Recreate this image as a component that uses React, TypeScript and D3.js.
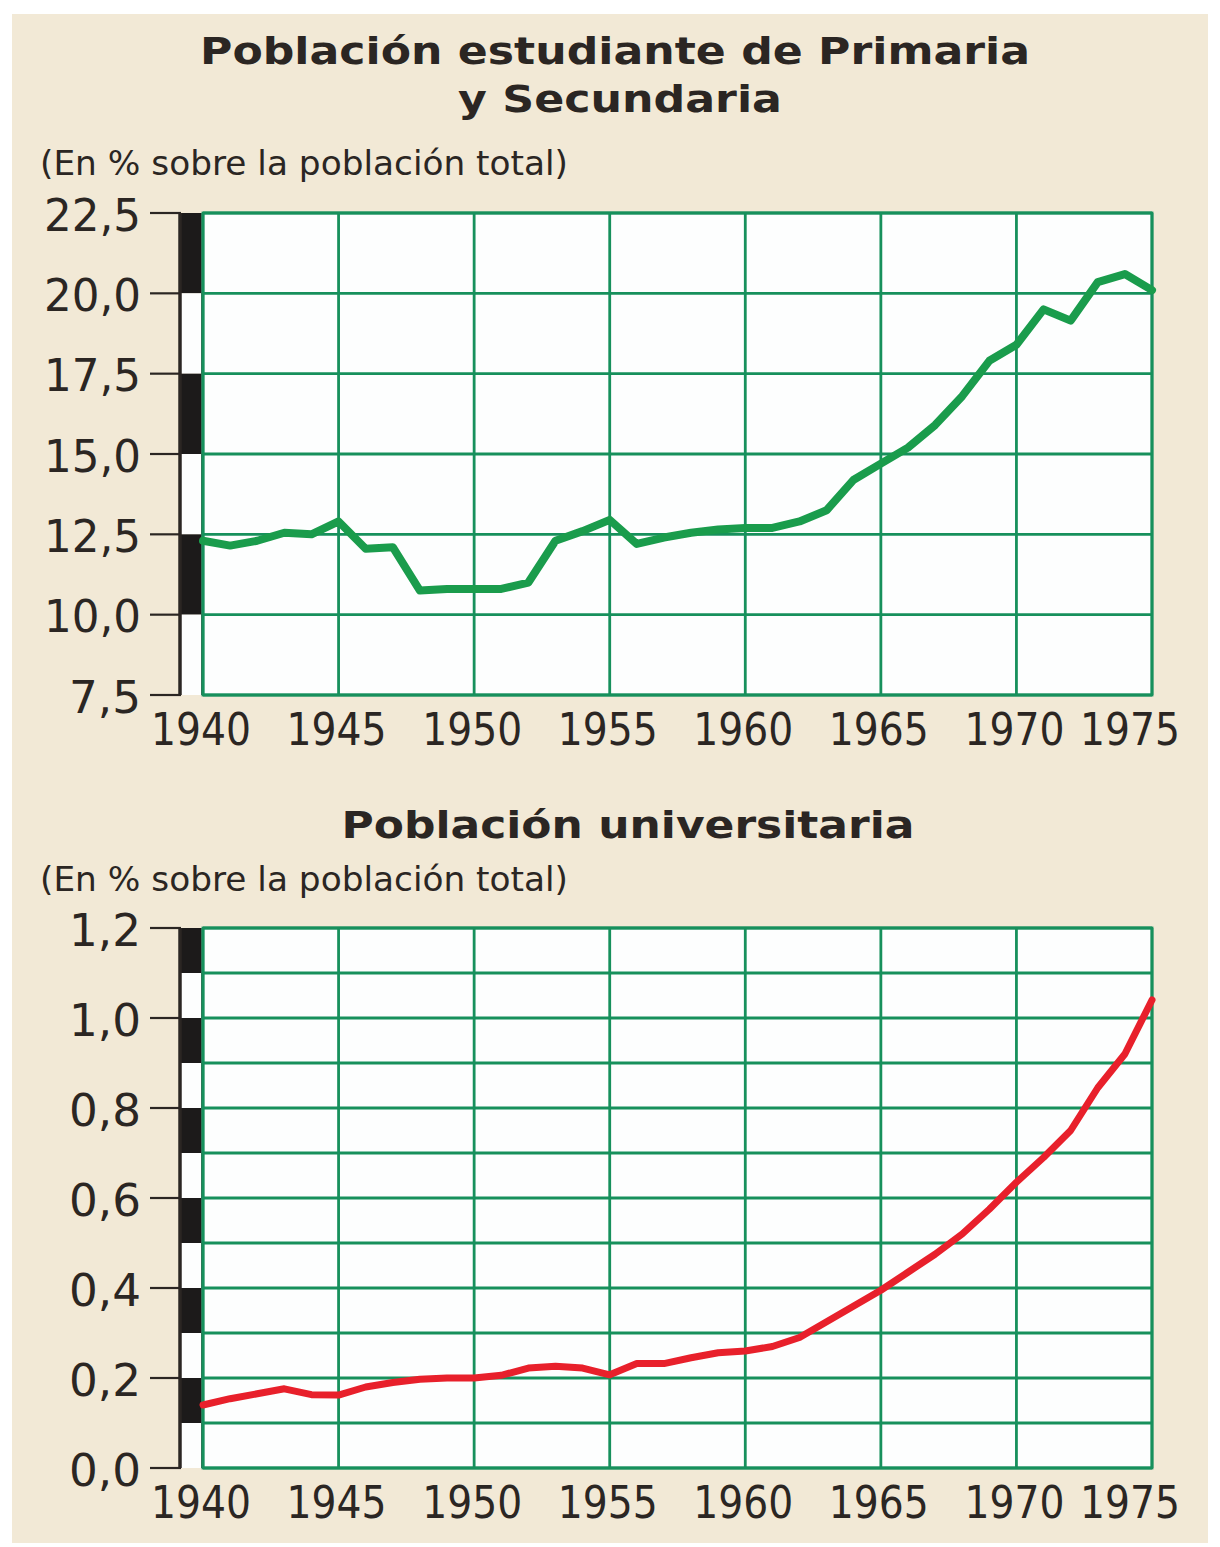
import React from "react";
import * as d3 from "d3";

const years = d3.range(1940, 1976);
const primaria = [
  12.3, 12.15, 12.3, 12.55, 12.5, 12.9, 12.05, 12.1, 10.75, 10.8, 10.8, 10.8,
  11.0, 12.3, 12.6, 12.95, 12.2, 12.4, 12.55, 12.65, 12.7, 12.7, 12.9, 13.25,
  14.2, 14.7, 15.2, 15.9, 16.8, 17.9, 18.4, 19.5, 19.15, 20.35, 20.6, 20.1,
];
const universitaria = [
  0.14, 0.154, 0.165, 0.176, 0.163, 0.162, 0.18, 0.19, 0.197, 0.2, 0.2, 0.206,
  0.222, 0.226, 0.222, 0.207, 0.232, 0.232, 0.245, 0.256, 0.26, 0.27, 0.29,
  0.325, 0.36, 0.395, 0.435, 0.475, 0.52, 0.575, 0.635, 0.69, 0.75, 0.845,
  0.92, 1.04,
];
const yearTicks = [1940, 1945, 1950, 1955, 1960, 1965, 1970, 1975];
const primTicks = [7.5, 10, 12.5, 15, 17.5, 20, 22.5];
const univTicks = [0, 0.2, 0.4, 0.6, 0.8, 1.0, 1.2];

const fmt = (d: number) => d.toFixed(1).replace(".", ",");

const GRID = "#17905c";
const INK = "#2b2623";
const FONT = "DejaVu Sans";

const x = d3.scaleLinear().domain([1940, 1975]).range([203, 1152]);

// Tahoma-like narrow glyphs: squeeze DejaVu to the measured widths
const labelWidth = (s: string) =>
  s.split("").reduce((w, c) => w + (c === "," ? 22 : 25), 0);

function Panel(props: {
  values: number[];
  yScale: d3.ScaleLinear<number, number>;
  ticks: number[];
  gridStep: number;
  color: string;
  lineWidth: number;
}) {
  const { values, yScale, ticks, gridStep, color, lineWidth } = props;
  const [lo, hi] = yScale.domain();
  const grid = d3.range(lo, hi + gridStep / 2, gridStep);
  const bands = d3.range(0, grid.length - 1);
  const top = yScale(hi);
  const bottom = yScale(lo);
  const left = x.range()[0];
  const right = x.range()[1];
  const line = d3
    .line<number>()
    .x((_, i) => x(years[i]))
    .y((d) => yScale(d));
  return (
    <g>
      <rect x={left} y={top} width={right - left} height={bottom - top} fill="#fdfefe" />
      {/* black/white strip */}
      {bands.map((i) => {
        const a = grid[grid.length - 1 - i];
        const b = grid[grid.length - 2 - i];
        return (
          <rect
            key={i}
            x={179}
            y={yScale(a)}
            width={left - 179}
            height={yScale(b) - yScale(a)}
            fill={i % 2 === 0 ? "#1c1a1a" : "#fdfefe"}
          />
        );
      })}
      <line x1={180} x2={180} y1={top} y2={bottom} stroke={INK} strokeWidth={3.5} />
      <line x1={left - 1} x2={left - 1} y1={top} y2={bottom} stroke="#555" strokeWidth={2} />
      {grid.map((g, i) => (
        <line key={i} x1={left} x2={right} y1={yScale(g)} y2={yScale(g)} stroke={GRID} strokeWidth={2.8} />
      ))}
      {yearTicks.map((t) => (
        <line key={t} x1={x(t)} x2={x(t)} y1={top} y2={bottom} stroke={GRID} strokeWidth={2.8} />
      ))}
      <rect x={left} y={top} width={right - left} height={bottom - top} fill="none" stroke={GRID} strokeWidth={2.8} />
      {ticks.map((t) => (
        <g key={t}>
          <line x1={150} x2={181} y1={yScale(t)} y2={yScale(t)} stroke={INK} strokeWidth={2.2} />
          <text
            x={141}
            y={yScale(t)}
            dy="0.4em"
            textAnchor="end"
            fontSize={44}
            fill={INK}
            fontFamily={FONT}
            textLength={labelWidth(fmt(t))}
            lengthAdjust="spacingAndGlyphs"
          >
            {fmt(t)}
          </text>
        </g>
      ))}
      {yearTicks.map((t, i) => {
        const last = i === yearTicks.length - 1;
        return (
          <text
            key={t}
            x={last ? x(t) + 28 : x(t) - 2}
            y={bottom + 50}
            textAnchor={last ? "end" : "middle"}
            fontSize={44}
            fill={INK}
            fontFamily={FONT}
            textLength={100}
            lengthAdjust="spacingAndGlyphs"
          >
            {t}
          </text>
        );
      })}
      <path
        d={line(values) || ""}
        fill="none"
        stroke={color}
        strokeWidth={lineWidth}
        strokeLinejoin="round"
        strokeLinecap="round"
      />
    </g>
  );
}

export default function App() {
  const yPrim = d3.scaleLinear().domain([7.5, 22.5]).range([695, 213]);
  const yUniv = d3.scaleLinear().domain([0, 1.2]).range([1468, 928]);
  const titleStyle = { fontFamily: FONT, fontWeight: 700, fill: INK } as const;
  const subStyle = { fontFamily: FONT, fill: INK } as const;
  return (
    <div style={{ position: "absolute", left: 0, top: 0 }}>
      <svg width={1220} height={1547} style={{ display: "block", background: "#fff" }}>
        <rect x={12} y={14} width={1196} height={1529} fill="#f2e9d6" />
        <text x={615} y={64} textAnchor="middle" fontSize={38} textLength={830} lengthAdjust="spacingAndGlyphs" {...titleStyle}>
          Población estudiante de Primaria
        </text>
        <text x={620} y={112} textAnchor="middle" fontSize={38} textLength={324} lengthAdjust="spacingAndGlyphs" {...titleStyle}>
          y Secundaria
        </text>
        <text x={40} y={175} fontSize={33} textLength={528} lengthAdjust="spacingAndGlyphs" {...subStyle}>
          (En % sobre la población total)
        </text>
        <Panel values={primaria} yScale={yPrim} ticks={primTicks} gridStep={2.5} color="#1a9c4c" lineWidth={8} />

        <text x={628} y={838} textAnchor="middle" fontSize={38} textLength={573} lengthAdjust="spacingAndGlyphs" {...titleStyle}>
          Población universitaria
        </text>
        <text x={40} y={891} fontSize={33} textLength={528} lengthAdjust="spacingAndGlyphs" {...subStyle}>
          (En % sobre la población total)
        </text>
        <Panel values={universitaria} yScale={yUniv} ticks={univTicks} gridStep={0.1} color="#e8202b" lineWidth={7} />
      </svg>
    </div>
  );
}
